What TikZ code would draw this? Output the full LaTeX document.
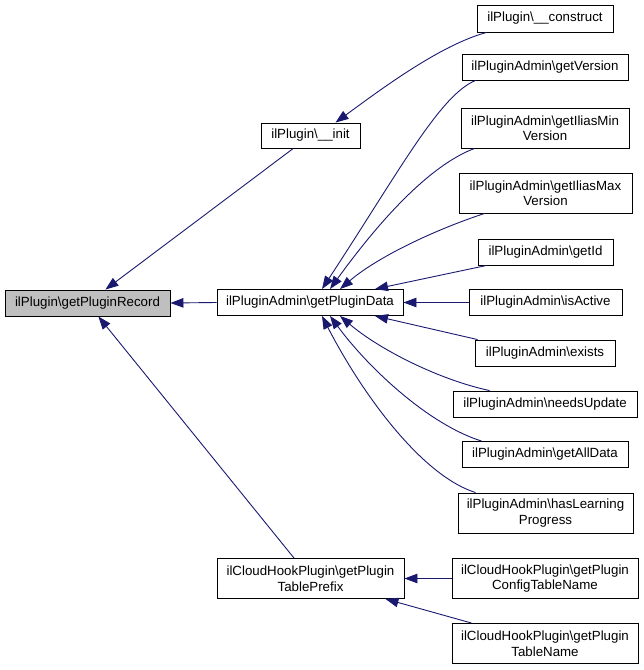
\documentclass[tikz,border=0pt]{standalone}
\usepackage{fontspec}
\setmainfont{Liberation Sans}
\usetikzlibrary{arrows.meta,calc}
\definecolor{edgeblue}{HTML}{191970}
\definecolor{hlgray}{HTML}{BFBFBF}
\tikzset{
  box/.style={draw=black,line width=0.9pt,fill=white,inner sep=0pt,align=center,
    font=\fontsize{13.3}{15.5}\selectfont},
  arr/.style={draw=edgeblue,line width=0.9pt,{Triangle[length=13pt,width=9.5pt]}-}
}
\begin{document}
\begin{tikzpicture}[x=1pt,y=-1pt]
\useasboundingbox (0,0) rectangle (644,670);
\node[box,fill=hlgray,minimum width=165,minimum height=26] (rec) at (87.5,303) {ilPlugin\textbackslash getPluginRecord};
\node[box,minimum width=136,minimum height=27] (con) at (545,18.5) {ilPlugin\textbackslash \_\_construct};
\node[box,minimum width=166,minimum height=26] (ver) at (545,67) {ilPluginAdmin\textbackslash getVersion};
\node[box,minimum width=99,minimum height=25] (init) at (310.5,135.5) {ilPlugin\textbackslash \_\_init};
\node[box,minimum width=168,minimum height=40] (min) at (545,128) {ilPluginAdmin\textbackslash getIliasMin\\Version};
\node[box,minimum width=173,minimum height=40] (max) at (545.5,193) {ilPluginAdmin\textbackslash getIliasMax\\Version};
\node[box,minimum width=135,minimum height=26] (id) at (545.5,252) {ilPluginAdmin\textbackslash getId};
\node[box,minimum width=186,minimum height=26] (data) at (310,302.5) {ilPluginAdmin\textbackslash getPluginData};
\node[box,minimum width=153,minimum height=26] (act) at (545.5,302.5) {ilPluginAdmin\textbackslash isActive};
\node[box,minimum width=140,minimum height=26] (ex) at (545,353) {ilPluginAdmin\textbackslash exists};
\node[box,minimum width=184,minimum height=26] (nu) at (545,404) {ilPluginAdmin\textbackslash needsUpdate};
\node[box,minimum width=166,minimum height=26] (all) at (545,454.5) {ilPluginAdmin\textbackslash getAllData};
\node[box,minimum width=175,minimum height=40] (hl) at (545.5,513) {ilPluginAdmin\textbackslash hasLearning\\Progress};
\node[box,minimum width=187,minimum height=40] (pre) at (310.5,578.5) {ilCloudHookPlugin\textbackslash getPlugin\\TablePrefix};
\node[box,minimum width=186,minimum height=40] (cfg) at (545,578.5) {ilCloudHookPlugin\textbackslash getPlugin\\ConfigTableName};
\node[box,minimum width=186,minimum height=40] (tn) at (545,643.5) {ilCloudHookPlugin\textbackslash getPlugin\\TableName};
% edges to getPluginRecord
\draw[arr] (rec) -- (init);
\draw[arr] (rec.east) -- (data.west);
\draw[arr] (rec) -- (pre);
% construct -> init
\draw[arr] ($(init.north)+(25,0)$) .. controls (380,90) and (440,45) .. ($(con.south west)+(10,0)$);
% to getPluginData
\draw[arr] ($(data.north)+(12,0)$) .. controls (400,170) and (440,95) .. ($(ver.south west)+(14,0)$);
\draw[arr] ($(data.north)+(20,0)$) .. controls (380,220) and (430,165) .. ($(min.south west)+(14,0)$);
\draw[arr] ($(data.north)+(30,0)$) .. controls (380,255) and (440,228) .. ($(max.south west)+(26,0)$);
\draw[arr] ($(data.north)+(65,0)$) -- ($(id.south west)+(9,0)$);
\draw[arr] (data.east) -- (act.west);
\draw[arr] ($(data.south)+(65,0)$) -- ($(ex.north west)+(3,0)$);
\draw[arr] ($(data.south)+(30,0)$) .. controls (380,350) and (440,380) .. ($(nu.north west)+(37,0)$);
\draw[arr] ($(data.south)+(20,0)$) .. controls (370,370) and (430,425) .. ($(all.north west)+(20,0)$);
\draw[arr] ($(data.south)+(12,0)$) .. controls (360,390) and (420,475) .. ($(hl.north west)+(18,0)$);
% to TablePrefix
\draw[arr] (pre.east) -- (cfg.west);
\draw[arr] ($(pre.south east)+(-19,0)$) -- ($(tn.north west)+(20,0)$);
\end{tikzpicture}
\end{document}
